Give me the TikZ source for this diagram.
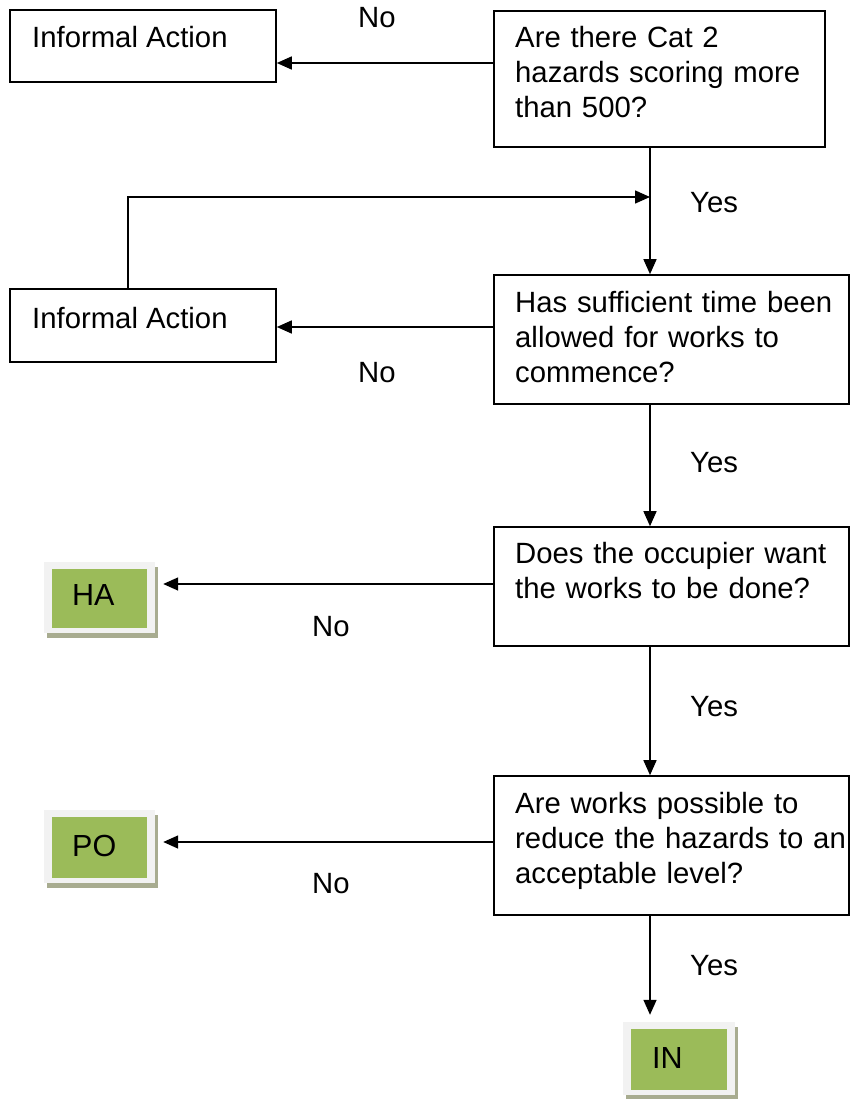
\documentclass[tikz,border=0pt]{standalone}
\usepackage{fontspec}
\setmainfont{Liberation Sans}
\usetikzlibrary{arrows.meta,shadows,calc}
\definecolor{gboxc}{HTML}{9BBB59}
\definecolor{frameg}{HTML}{F2F2F2}
\definecolor{shadowc}{HTML}{A8AC90}
\begin{document}
\begin{tikzpicture}[x=1pt,y=-1pt,
  every node/.style={font=\fontsize{29.3}{35}\selectfont},
  box/.style={draw=black, line width=1.6pt, inner sep=0pt, fill=white},
  txt/.style={inner sep=0pt, anchor=base west, align=left},
  lbl/.style={inner sep=0pt, anchor=base west},
  arr/.style={line width=1.5pt, -{Triangle[length=15pt,width=13pt]}},
  gbox/.style={fill=frameg, inner sep=0pt, minimum width=111pt, minimum height=72pt,
    general shadow={fill=shadowc, shadow xshift=3pt, shadow yshift=-5pt},
    path picture={\fill[gboxc] ([shift={(8pt,5pt)}]path picture bounding box.south west)
      rectangle ([shift={(-8pt,-7pt)}]path picture bounding box.north east);}},
  gtxt/.style={inner sep=0pt, anchor=base west, font=\fontsize{30.5}{35}\selectfont}
]
\useasboundingbox (0,0) rectangle (851,1099);
\coordinate (sp) at (650,0);
\coordinate (lp) at (128,0);
\coordinate (ly) at (0,197);

% boxes
\node[box, minimum width=266pt, minimum height=72pt] (ia1) at (143,46) {};
\node[txt] (ia1t) at (32,48) {Informal Action};
\node[box, minimum width=331pt, minimum height=136pt] (q1) at (659.5,79) {};
\node[txt, text width=320pt] (q1t) at (515,48) {Are there Cat 2\\hazards scoring more\\than 500?};

\node[box, minimum width=266pt, minimum height=73pt] (ia2) at (143,325.5) {};
\node[txt] (ia2t) at (32,328) {Informal Action};
\node[box, minimum width=355pt, minimum height=129pt] (q2) at (671.5,339.5) {};
\node[txt, text width=340pt] (q2t) at (515,312) {Has sufficient time been\\allowed for works to\\commence?};

\node[box, minimum width=355pt, minimum height=119pt] (q3) at (671.5,586.5) {};
\node[txt, text width=340pt] (q3t) at (515,563) {Does the occupier want\\the works to be done?};

\node[box, minimum width=355pt, minimum height=139pt] (q4) at (671.5,845.5) {};
\node[txt, text width=340pt] (q4t) at (515,813) {Are works possible to\\reduce the hazards to an\\acceptable level?};

% green boxes
\node[gbox, minimum height=71pt] (ha) at (99.5,597.5) {};
\node[gtxt] (hat) at (72,605) {HA};
\node[gbox, minimum height=73pt] (po) at (99.5,846.5) {};
\node[gtxt] (pot) at (72,856) {PO};
\node[gbox, minimum width=112pt, minimum height=73pt] (in) at (679,1058.5) {};
\node[gtxt] (int) at (652,1068) {IN};

% labels
\node[lbl] (n1) at (358,28) {No};
\node[lbl] (y1) at (690,213) {Yes};
\node[lbl] (n2) at (358,382) {No};
\node[lbl] (y2) at (690,472) {Yes};
\node[lbl] (n3) at (312,636) {No};
\node[lbl] (y3) at (690,716) {Yes};
\node[lbl] (n4) at (312,893) {No};
\node[lbl] (y4) at (690,975) {Yes};

% connectors
\coordinate (c1) at ([yshift=16pt]q1.west);
\draw[arr] (c1) -- (c1 -| ia1.east);
\coordinate (c2) at ([yshift=12.5pt]q2.west);
\draw[arr] (c2) -- (c2 -| ia2.east);
\coordinate (c3) at ([yshift=2.5pt]q3.west);
\draw[arr, shorten >=8pt] (c3) -- (c3 -| ha.east);
\coordinate (c4) at ([yshift=3.5pt]q4.west);
\draw[arr, shorten >=8pt] (c4) -- (c4 -| po.east);

\draw[arr] (q1.south -| sp) -- (q2.north -| sp);
\draw[arr] (q2.south -| sp) -- (q3.north -| sp);
\draw[arr] (q3.south -| sp) -- (q4.north -| sp);
\draw[arr, shorten >=7pt] (q4.south -| sp) -- (in.north -| sp);

\draw[arr] (ia2.north -| lp) -- (lp |- ly) -- (sp |- ly);
\end{tikzpicture}
\end{document}
